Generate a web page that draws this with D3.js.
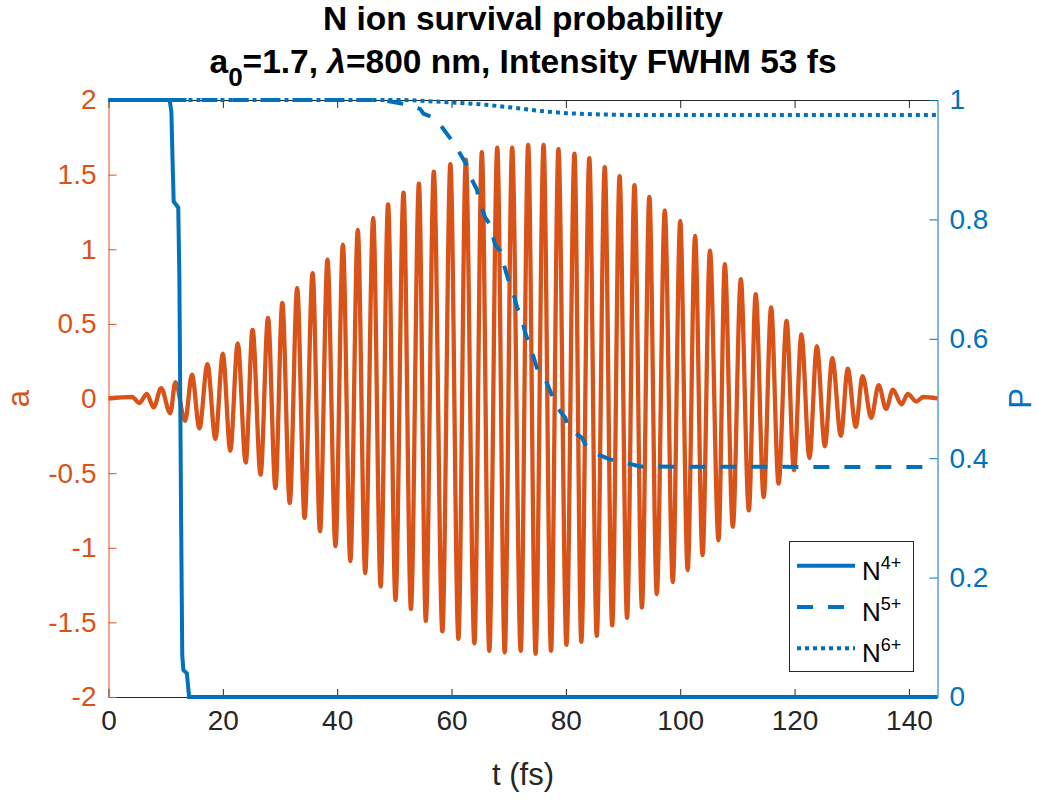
<!DOCTYPE html>
<html>
<head>
<meta charset="utf-8">
<script src="https://cdn.jsdelivr.net/npm/d3@7"></script>
<style>
  body { margin: 0; background: #fff; }
  text { font-family: "Liberation Sans", Arial, Helvetica, sans-serif; }
</style>
</head>
<body>
<script>
//tick values for the three axes
var tTicks = [0, 20, 40, 60, 80, 100, 120, 140];
var aTicks = [-2, -1.5, -1, -0.5, 0, 0.5, 1, 1.5, 2];
var pTicks = [0, 0.2, 0.4, 0.6, 0.8, 1];
var aLabels = ["-2", "-1.5", "-1", "-0.5", "0", "0.5", "1", "1.5", "2"];
var pLabels = ["0", "0.2", "0.4", "0.6", "0.8", "1"];

//laser field a(t): crests and troughs (fs, a)
var crestT = [4.1, 6.7, 9.2, 11.7, 14.6, 17.3, 20.0, 22.6, 25.2, 27.9, 30.4, 33.0, 35.7, 38.3, 41.0,
  43.6, 46.3, 48.9, 51.6, 54.3, 56.9, 59.8, 62.5, 65.3, 68.0, 70.6, 73.4, 76.1, 78.7, 81.5,
  84.1, 86.8, 89.4, 92.0, 94.6, 97.3, 100.0, 102.6, 105.2, 107.8, 110.6, 113.2, 115.9, 118.6, 121.2,
  123.9, 126.6, 129.3, 131.9, 134.7, 137.2, 139.8, 142.5];
var crestA = [0.01, 0.03, 0.07, 0.11, 0.16, 0.23, 0.30, 0.37, 0.46, 0.54, 0.64, 0.74, 0.84, 0.93, 1.03,
  1.13, 1.21, 1.30, 1.38, 1.44, 1.52, 1.57, 1.60, 1.65, 1.68, 1.68, 1.70, 1.70, 1.67, 1.64,
  1.61, 1.55, 1.49, 1.43, 1.35, 1.26, 1.19, 1.09, 0.99, 0.90, 0.80, 0.70, 0.61, 0.52, 0.43,
  0.35, 0.27, 0.20, 0.15, 0.09, 0.06, 0.03, 0.01];
var troughT = [5.4, 7.9, 10.8, 13.4, 15.9, 18.7, 21.3, 24.0, 26.6, 29.2, 31.7, 34.3, 37.0, 39.7, 42.3,
  44.9, 47.6, 50.2, 52.9, 55.5, 58.4, 61.2, 64.0, 66.6, 69.3, 72.1, 74.7, 77.4, 80.1, 82.7,
  85.4, 88.1, 90.7, 93.3, 95.9, 98.7, 101.3, 103.9, 106.7, 109.2, 112.0, 114.6, 117.2, 119.9, 122.6,
  125.3, 128.1, 130.7, 133.4, 136.0, 138.7, 141.3];
var troughA = [-0.03, -0.06, -0.10, -0.15, -0.20, -0.27, -0.35, -0.43, -0.51, -0.60, -0.70, -0.80, -0.89, -0.99, -1.09,
  -1.17, -1.26, -1.35, -1.41, -1.49, -1.56, -1.61, -1.64, -1.69, -1.70, -1.69, -1.71, -1.69, -1.65, -1.63,
  -1.59, -1.52, -1.47, -1.40, -1.31, -1.23, -1.15, -1.05, -0.95, -0.86, -0.75, -0.66, -0.57, -0.48, -0.40,
  -0.32, -0.25, -0.19, -0.13, -0.07, -0.04, -0.02];
var edgeT = [0, 145]; //field is flat at both ends
var edgeA = [0, 0];

//survival probability of each ion (fs, P)
var n4T = [0, 10.7, 11.0, 11.2, 11.4, 12.2, 12.4, 12.7, 12.9, 13.1, 13.7, 13.9, 14.1, 145];
var n4P = [1, 1, 0.98, 0.9, 0.83, 0.82, 0.7, 0.3, 0.07, 0.045, 0.04, 0.02, 0, 0];
var n5T = [0, 48, 50, 52, 54.5, 55.1, 56.5, 57.7, 58.6, 60.3, 61.2, 62.7, 63.2, 64.4, 65.0, 65.9, 66.7,
  67.6, 68.5, 69.4, 69.9, 70.8, 71.4, 72.3, 72.9, 73.7, 74.3, 75.2, 76.4, 77.5, 78.3, 79.9, 80.4,
  82.8, 83.6, 85.7, 87.7, 90.6, 93.0, 145];
var n5P = [1, 1, 0.996, 0.993, 0.985, 0.977, 0.972, 0.963, 0.951, 0.929, 0.915, 0.890, 0.873, 0.851, 0.826, 0.803, 0.792,
  0.758, 0.747, 0.716, 0.700, 0.677, 0.655, 0.633, 0.610, 0.588, 0.571, 0.543, 0.532, 0.507, 0.487, 0.468, 0.451,
  0.434, 0.420, 0.406, 0.398, 0.392, 0.386, 0.385];
var n6T = [0, 52, 56, 60, 65, 70, 75, 80, 85, 90, 145];
var n6P = [1, 1, 0.998, 0.996, 0.993, 0.988, 0.982, 0.978, 0.976, 0.975, 0.975];
var ionCharges = ["4+", "5+", "6+"];

var orange = "#D95319";
var blue = "#0072BD";
var dark = "#262626";

window.onload = initialize();

function initialize(){
  drawChart();
};

function zipPoints(xs, ys){
  return xs.map(function(x, i){ return {t: x, v: ys[i]}; });
};

function drawChart(){

  var width = 1037;
  var height = 800;
  var left = 108.5, right = 937.5, top = 100, bottom = 697;

  var svg = d3.select("body")
              .append("svg")
              .attr("width", width)
              .attr("height", height);

  var x = d3.scaleLinear().domain([0, 145]).range([left, right]);
  var yA = d3.scaleLinear().domain([-2, 2]).range([bottom, top]);
  var yP = d3.scaleLinear().domain([0, 1]).range([bottom, top]);

  //axes, ticks point inward like matlab
  var xAxis = svg.append("g")
                 .attr("transform", "translate(0," + bottom + ")")
                 .call(d3.axisBottom(x).tickValues(tTicks).tickSizeInner(-8).tickSizeOuter(0).tickPadding(13));
  var xTop = svg.append("g")
                .attr("transform", "translate(0," + top + ")")
                .call(d3.axisTop(x).tickValues(tTicks).tickSizeInner(-8).tickSizeOuter(0).tickFormat(""));
  var aAxis = svg.append("g")
                 .attr("transform", "translate(" + left + ",0)")
                 .call(d3.axisLeft(yA).tickValues(aTicks).tickSizeInner(-8).tickSizeOuter(0).tickPadding(12)
                   .tickFormat(function(d, i){ return aLabels[i]; }));
  var pAxis = svg.append("g")
                 .attr("transform", "translate(" + right + ",0)")
                 .call(d3.axisRight(yP).tickValues(pTicks).tickSizeInner(-8).tickSizeOuter(0).tickPadding(12)
                   .tickFormat(function(d, i){ return pLabels[i]; }));

  styleAxis(xAxis, dark);
  styleAxis(xTop, dark);
  styleAxis(aAxis, orange);
  styleAxis(pAxis, blue);

  //field on the left axis
  var wave = zipPoints(edgeT, edgeA)
               .concat(zipPoints(crestT, crestA))
               .concat(zipPoints(troughT, troughA))
               .sort(function(p, q){ return p.t - q.t; });

  var waveLine = d3.line()
                   .x(function(d){ return x(d.t); })
                   .y(function(d){ return yA(d.v); })
                   .curve(d3.curveMonotoneX);

  svg.append("path")
     .datum(wave)
     .attr("d", waveLine)
     .attr("fill", "none")
     .attr("stroke", orange)
     .attr("stroke-width", 4.3)
     .attr("stroke-linejoin", "round");

  //probabilities on the right axis
  var probLine = d3.line()
                   .x(function(d){ return x(d.t); })
                   .y(function(d){ return yP(d.v); });

  var ions = [
    {pts: zipPoints(n4T, n4P), dash: null},
    {pts: zipPoints(n5T, n5P), dash: "16,15"},
    {pts: zipPoints(n6T, n6P), dash: "4,4"}
  ];

  svg.selectAll(".ion")
     .data(ions)
     .enter().append("path")
     .attr("class", "ion")
     .attr("d", function(d){ return probLine(d.pts); })
     .attr("fill", "none")
     .attr("stroke", blue)
     .attr("stroke-width", 4)
     .attr("stroke-dasharray", function(d){ return d.dash; });

  //axis labels
  svg.append("text")
     .attr("transform", "translate(29," + (top + bottom) / 2 + ") rotate(-90)")
     .attr("text-anchor", "middle")
     .attr("font-size", 31)
     .attr("fill", orange)
     .text("a");
  svg.append("text")
     .attr("transform", "translate(1031," + (top + bottom) / 2 + ") rotate(-90)")
     .attr("text-anchor", "middle")
     .attr("font-size", 31)
     .attr("fill", blue)
     .text("P");
  svg.append("text")
     .attr("x", (left + right) / 2)
     .attr("y", 785)
     .attr("text-anchor", "middle")
     .attr("font-size", 31)
     .attr("fill", dark)
     .text("t (fs)");

  //title
  svg.append("text")
     .attr("x", (left + right) / 2)
     .attr("y", 30)
     .attr("text-anchor", "middle")
     .attr("font-size", 33.5)
     .attr("font-weight", "bold")
     .attr("fill", "#000")
     .text("N ion survival probability");
  var line2 = svg.append("text")
                 .attr("x", (left + right) / 2)
                 .attr("y", 73)
                 .attr("text-anchor", "middle")
                 .attr("font-size", 33.5)
                 .attr("font-weight", "bold")
                 .attr("fill", "#000");
  line2.append("tspan").text("a");
  line2.append("tspan").attr("dy", 13).attr("font-size", 26).text("0");
  line2.append("tspan").attr("dy", -13).text("=1.7, ");
  line2.append("tspan").attr("font-style", "italic").text("\u03bb");
  line2.append("tspan").text("=800 nm, Intensity FWHM 53 fs");

  //legend
  var legend = svg.append("g");
  legend.append("rect")
        .attr("x", 789.5).attr("y", 541.5)
        .attr("width", 124).attr("height", 130)
        .attr("fill", "#fff")
        .attr("stroke", dark)
        .attr("stroke-width", 1);

  var rows = legend.selectAll(".row")
                   .data(ions)
                   .enter().append("g")
                   .attr("class", "row")
                   .attr("transform", function(d, i){ return "translate(0," + (565.7 + i * 41.3) + ")"; });
  rows.append("line")
      .attr("x1", 797).attr("x2", 855)
      .attr("stroke", blue)
      .attr("stroke-width", 4)
      .attr("stroke-dasharray", function(d){ return d.dash; });
  var label = rows.append("text")
                  .attr("x", 862)
                  .attr("y", 14)
                  .attr("font-size", 26)
                  .attr("fill", "#000");
  label.append("tspan").text("N");
  label.append("tspan")
       .attr("dy", -11)
       .attr("font-size", 18)
       .text(function(d, i){ return ionCharges[i]; });
};

function styleAxis(g, color){
  g.select(".domain").attr("stroke", color).attr("stroke-width", 1);
  g.selectAll(".tick line").attr("stroke", color).attr("stroke-width", 1);
  g.selectAll(".tick text")
   .attr("fill", color)
   .attr("font-size", 28)
   .attr("font-family", "'Liberation Sans', Arial, Helvetica, sans-serif");
};
</script>
</body>
</html>
